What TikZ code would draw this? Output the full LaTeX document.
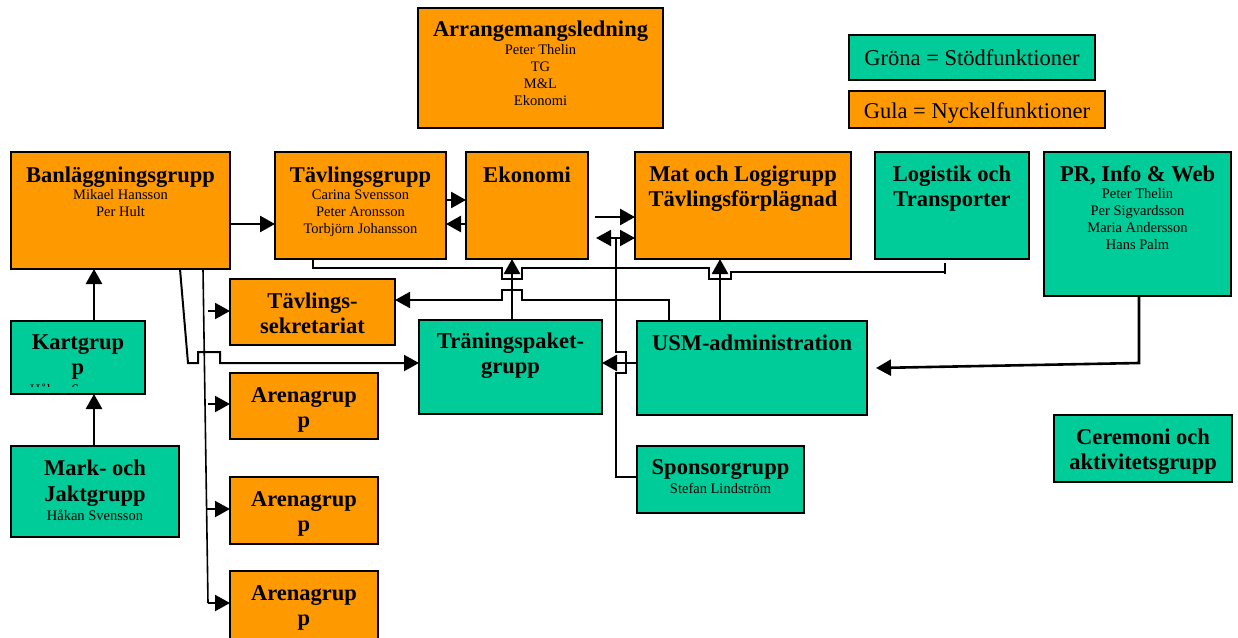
\documentclass[tikz,border=0pt]{standalone}
\usepackage{fontspec}
\setmainfont{Liberation Serif}
\usetikzlibrary{arrows.meta}
\definecolor{orng}{HTML}{FF9900}
\definecolor{grn}{HTML}{00CC99}
\newcommand\bt[1]{{\bfseries\fontsize{22.5}{25}\selectfont#1}}
\newcommand\fl{\rule{0pt}{22pt}}
\newcommand\nolsl{\lineskiplimit -50pt\relax}
\tikzset{
  box/.style={draw=black, line width=2pt, inner sep=0pt, outer sep=0pt, anchor=north west},
  okey/.style={box, fill=orng},
  gsup/.style={box, fill=grn},
  txt/.style={anchor=north, inner sep=0pt, align=center, font=\fontsize{14.5}{17}\selectfont\nolsl},
  leg/.style={anchor=base, inner sep=0pt, font=\fontsize{22.5}{25}\selectfont},
  arr/.style={line width=2.6pt, -{Triangle[length=15pt,width=16pt]}},
  arrt/.style={line width=2pt, -{Triangle[length=15pt,width=16pt]}},
  thinl/.style={line width=1.6pt},
}
\begin{document}
\begin{tikzpicture}[x=1pt,y=-1pt]
\useasboundingbox (0,0) rectangle (1238,637);
% ---------- boxes ----------
\node[okey, minimum width=245pt, minimum height=120pt] (arr) at (418,8) {};
\node[gsup, minimum width=246pt, minimum height=45pt] (legG) at (849,35) {};
\node[okey, minimum width=256pt, minimum height=37pt] (legO) at (849,91) {};
\node[okey, minimum width=219pt, minimum height=117pt] (ban) at (11,152) {};
\node[okey, minimum width=171pt, minimum height=107pt] (tav) at (275,152) {};
\node[okey, minimum width=122pt, minimum height=107pt] (eko) at (466,152) {};
\node[okey, minimum width=216pt, minimum height=107pt] (mat) at (635,152) {};
\node[gsup, minimum width=154pt, minimum height=107pt] (log) at (875,152) {};
\node[gsup, minimum width=187pt, minimum height=144pt] (pr) at (1044,152) {};
\node[okey, minimum width=165pt, minimum height=66pt] (sek) at (230,279) {};
\node[gsup, minimum width=134pt, minimum height=73pt] (kar) at (11,321) {};
\node[okey, minimum width=148pt, minimum height=66pt] (ar1) at (230,373) {};
\node[okey, minimum width=148pt, minimum height=67pt] (ar2) at (230,477) {};
\node[okey, minimum width=148pt, minimum height=80pt] (ar3) at (230,571) {};
\node[gsup, minimum width=168pt, minimum height=91pt] (mark) at (11,446) {};
\node[gsup, minimum width=183pt, minimum height=94pt] (tra) at (419,320) {};
\node[gsup, minimum width=230pt, minimum height=94pt] (usm) at (637,321) {};
\node[gsup, minimum width=167pt, minimum height=67pt] (spo) at (637,446) {};
\node[gsup, minimum width=178pt, minimum height=67pt] (cer) at (1054,415) {};
% ---------- texts ----------
\node[txt] (arrT) at (540.5,14) {\fl\bt{Arrangemangsledning}\\[1pt]Peter Thelin\\TG\\M\&L\\Ekonomi};
\node[leg] (legGT) at (972,65) {Gröna = Stödfunktioner};
\node[leg] (legOT) at (977,118) {Gula = Nyckelfunktioner};
\node[txt] (banT) at (120.5,160) {\fl\bt{Banläggningsgrupp}\\Mikael Hansson\\Per Hult};
\node[txt] (tavT) at (360.5,160) {\fl\bt{Tävlingsgrupp}\\Carina Svensson\\Peter Aronsson\\Torbjörn Johansson};
\node[txt] (ekoT) at (527,160) {\fl\bt{Ekonomi}};
\node[txt] (matT) at (743,159) {\fl\bt{Mat och Logigrupp}\\[8pt]\bt{Tävlingsförplägnad}};
\node[txt] (logT) at (952,159) {\fl\bt{Logistik och}\\[8pt]\bt{Transporter}};
\node[txt] (prT) at (1137.5,159) {\fl\bt{PR, Info \& Web}\\Peter Thelin\\Per Sigvardsson\\Maria Andersson\\Hans Palm};
\node[txt] (sekT) at (312.5,286) {\fl\bt{Tävlings-}\\[8pt]\bt{sekretariat}};
\node[txt] (karT) at (78,327) {\fl\bt{Kartgrup}\\[8pt]\bt{p}};
\begin{scope}
  \clip (13,380) rectangle (143,386.5);
  \node[anchor=base, inner sep=0pt, font=\fontsize{14.5}{17}\selectfont] (karN) at (78,394) {Håkan Svensson};
\end{scope}
\node[txt] (ar1T) at (304,380) {\fl\bt{Arenagrup}\\[8pt]\bt{p}};
\node[txt] (ar2T) at (304,484) {\fl\bt{Arenagrup}\\[8pt]\bt{p}};
\node[txt] (ar3T) at (304,578) {\fl\bt{Arenagrup}\\[8pt]\bt{p}};
\node[txt] (markT) at (95,453) {\fl\bt{Mark- och}\\[9pt]\bt{Jaktgrupp}\\[2pt]Håkan Svensson};
\node[txt] (traT) at (510.5,326) {\fl\bt{Träningspaket-}\\[8pt]\bt{grupp}};
\node[txt] (usmT) at (752,328) {\fl\bt{USM-administration}};
\node[txt] (spoT) at (720.5,452) {\fl\bt{Sponsorgrupp}\\[2pt]Stefan Lindström};
\node[txt] (cerT) at (1143,422) {\fl\bt{Ceremoni och}\\[8pt]\bt{aktivitetsgrupp}};
% ---------- connectors ----------
\draw[arr] (ban.east |- 0,224) -- (tav.west |- 0,224);
\draw[arr] (tav.east |- 0,200) -- (eko.west |- 0,200);
\draw[arr] (eko.west |- 0,224) -- (tav.east |- 0,224);
\coordinate (m0) at (595,217);
\draw[arr] (m0) -- (mat.west |- m0);
% sponsor line with double arrow
\coordinate (sp0) at (616,238);
\coordinate (spL) at (596,238);
\draw[thinl] (spo.west |- 0,477) -- (616,477) -- (616,373) -- (626,373) -- (626,352) -- (616,352) -- (sp0);
\draw[arrt] (sp0) -- (mat.west |- sp0);
\draw[arrt] (sp0) -- (spL);
% Tävlingsgrupp bottom line
\coordinate (tEnd) at (945,272);
\draw[thinl] (tav.south -| 313,0) -- (313,268) -- (502,268) -- (502,279) -- (522,279) -- (522,268)
  -- (709,268) -- (709,279) -- (731,279) -- (731,272) -- (tEnd);
\draw[thinl] (945,263) -- (945,274);
% USM -> Tävlingssekretariat
\draw[arrt] (usm.north -| 669,0) -- (669,300) -- (522,300) -- (522,290) -- (502,290) -- (502,300) -- (sek.east |- 0,300);
% verticals
\draw[arr] (tra.north -| 512,0) -- (eko.south -| 512,0);
\draw[arr] (usm.north -| 720,0) -- (mat.south -| 720,0);
\draw[arr] (usm.west |- 0,363) -- (tra.east |- 0,363);
\coordinate (usmIn) at (876,368);
\draw[arr] (pr.south -| 1139,0) -- (1139,363) -- (usmIn);
\draw[arr] (kar.north -| 94,0) -- (ban.south -| 94,0);
\draw[arr] (mark.north -| 94,0) -- (kar.south -| 94,0);
% Banläggning -> Träningspaket
\draw[arrt] (ban.south -| 180,0) -- (188,363) -- (198,363) -- (198,352) -- (220,352) -- (220,363) -- (tra.west |- 0,363);
% Banläggning -> sekretariat / arenor
\coordinate (bv) at (208,603);
\draw[thinl] (ban.south -| 203,0) -- (bv);
\draw[arrt] (bv) -- (ar3.west |- bv);
\draw[arrt] (207,509) -- (ar2.west |- 0,509);
\draw[arrt] (208,404) -- (ar1.west |- 0,404);
\draw[arrt] (208,311) -- (sek.west |- 0,311);
\end{tikzpicture}
\end{document}
